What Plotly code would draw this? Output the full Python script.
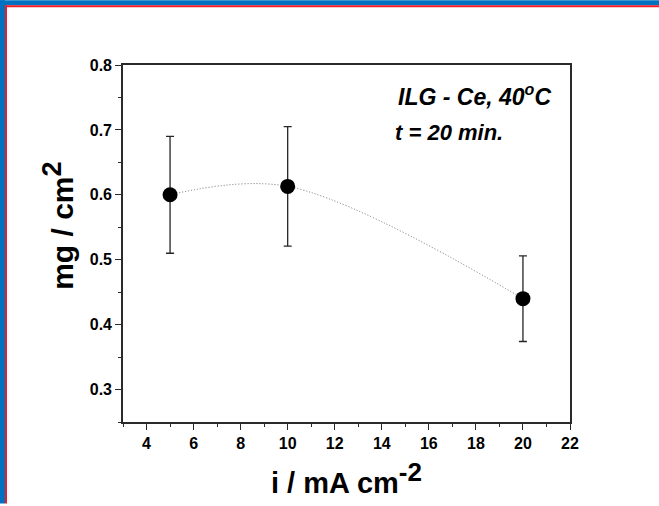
import plotly.graph_objects as go

# Mass gain versus current density
current_density = [5, 10, 20]          # i / mA cm-2
mass_gain = [0.600, 0.613, 0.440]      # mg / cm2
mass_err = [0.090, 0.092, 0.066]

x_ticks = [4, 6, 8, 10, 12, 14, 16, 18, 20, 22]
y_ticks = [0.3, 0.4, 0.5, 0.6, 0.7, 0.8]

FONT = "Liberation Sans, Arial, sans-serif"

fig = go.Figure()

# smooth dotted guide through the points
fig.add_trace(go.Scatter(
    x=current_density, y=mass_gain, mode="lines",
    line=dict(shape="spline", smoothing=1.0, dash="1px,2px", color="#6e6e6e", width=1),
    hoverinfo="skip", showlegend=False,
))

# measured points with error bars
fig.add_trace(go.Scatter(
    x=current_density, y=mass_gain, mode="markers",
    marker=dict(size=15, color="black"),
    error_y=dict(type="data", array=mass_err, visible=True,
                 color="#262626", thickness=1.3, width=4),
    showlegend=False,
))

axis_common = dict(
    showline=True, linecolor="#2a2a2a", linewidth=1.6, mirror=True,
    showgrid=False, zeroline=False,
    ticks="outside", ticklen=6, tickwidth=1.2, tickcolor="#2a2a2a",
    tickfont=dict(family=FONT, size=16, color="black"),
)

fig.update_xaxes(
    range=[3, 22], tickvals=x_ticks, ticktext=[f"<b>{v}</b>" for v in x_ticks],
    minor=dict(dtick=1, tick0=3, ticks="outside", ticklen=3, tickwidth=1, tickcolor="#2a2a2a"),
    title=dict(text="<b>i / mA cm<sup><span style='font-size:26px'>-2</span></sup></b>",
               font=dict(family=FONT, size=29, color="black"), standoff=22),
    **axis_common,
)
fig.update_yaxes(
    range=[0.25, 0.8], tickvals=y_ticks, ticktext=[f"<b>{v:.1f}</b>" for v in y_ticks],
    minor=dict(dtick=0.05, tick0=0.25, ticks="outside", ticklen=3, tickwidth=1, tickcolor="#2a2a2a"),
    **axis_common,
)

# y-axis title placed as a rotated annotation
fig.add_annotation(
    xref="paper", yref="paper", x=-0.145, y=0.55, xanchor="center", yanchor="middle",
    text="<b>mg / cm<sup><span style='font-size:27px'>2</span></sup></b>", textangle=-90,
    showarrow=False, font=dict(family=FONT, size=30, color="black"),
)

fig.add_annotation(
    xref="paper", yref="paper", x=0.962, y=0.916, xanchor="right", yanchor="middle",
    text="<b><i>ILG - Ce, 40<sup>o</sup>C</i></b>", showarrow=False,
    font=dict(family=FONT, size=23, color="black"),
)
fig.add_annotation(
    xref="paper", yref="paper", x=0.604, y=0.811, xanchor="left", yanchor="middle",
    text="<b><i>t = 20 min.</i></b>", showarrow=False,
    font=dict(family=FONT, size=22, color="black"),
)

# frame along the top and left edges of the page
L, R, T, B = 123, 89, 65, 82
W, H = 659, 506
pw, ph = W - L - R, H - T - B
def px(x):
    return (x - L) / pw
def py(y):
    return (H - B - y) / ph

shapes = [
    dict(type="rect", xref="paper", yref="paper", x0=px(0), x1=px(W), y0=py(0), y1=py(5),
         fillcolor="#0070c0", line=dict(width=0), layer="above"),
    dict(type="rect", xref="paper", yref="paper", x0=px(0), x1=px(5), y0=py(0), y1=py(H),
         fillcolor="#0070c0", line=dict(width=0), layer="above"),
    dict(type="rect", xref="paper", yref="paper", x0=px(5), x1=px(W), y0=py(5), y1=py(7),
         fillcolor="#ee1c25", line=dict(width=0), layer="above"),
    dict(type="rect", xref="paper", yref="paper", x0=px(5), x1=px(7), y0=py(5), y1=py(H),
         fillcolor="#ee1c25", line=dict(width=0), layer="above"),
]

fig.update_layout(
    width=W, height=H,
    margin=dict(l=L, r=R, t=T, b=B),
    paper_bgcolor="white", plot_bgcolor="white",
    shapes=shapes,
)

fig.write_html("out.html")
